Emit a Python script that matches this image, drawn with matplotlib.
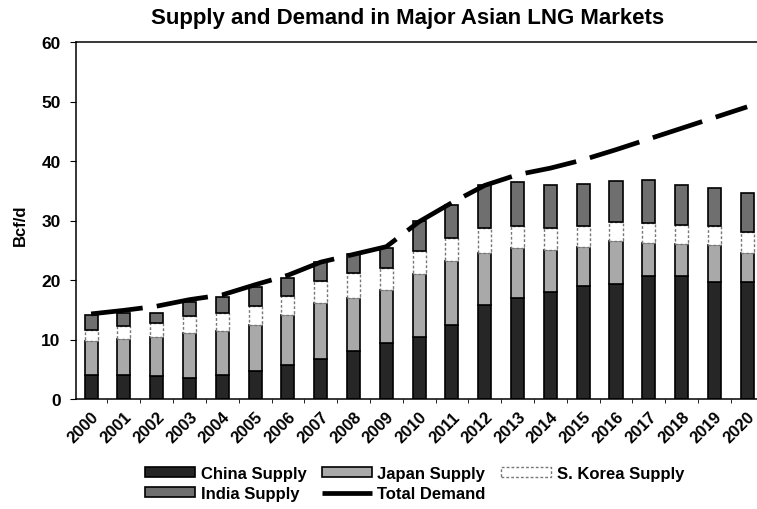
import matplotlib
matplotlib.use("Agg")
import matplotlib.pyplot as plt
import numpy as np

plt.rcParams["font.family"] = ["Liberation Sans", "DejaVu Sans"]
plt.rcParams["font.weight"] = "bold"

years = [str(y) for y in range(2000, 2021)]

# Bcf/d, stacked bottom to top
china_supply = [4.0, 4.1, 3.8, 3.6, 4.1, 4.7, 5.7, 6.8, 8.0, 9.4, 10.5,
                12.5, 15.8, 16.9, 18.0, 19.0, 19.4, 20.7, 20.7, 19.7, 19.7]
japan_supply = [5.7, 6.0, 6.6, 7.5, 7.3, 7.8, 8.4, 9.3, 8.9, 8.9, 10.5,
                10.7, 8.7, 8.4, 7.0, 6.6, 7.1, 5.6, 5.3, 6.1, 4.8]
korea_supply = [1.9, 2.1, 2.3, 2.8, 3.0, 3.1, 3.2, 3.7, 4.2, 3.7, 3.8,
                3.8, 4.2, 3.7, 3.7, 3.4, 3.3, 3.2, 3.2, 3.2, 3.6]
india_supply = [2.5, 2.2, 1.8, 2.4, 2.8, 3.3, 3.0, 3.2, 3.3, 3.3, 5.2,
                5.6, 7.2, 7.4, 7.2, 7.2, 6.8, 7.3, 6.8, 6.5, 6.6]
total_demand = [14.3, 14.9, 15.6, 16.7, 17.5, 19.2, 20.8, 23.0, 24.3, 25.6, 29.8,
                33.0, 35.9, 37.7, 38.8, 40.2, 41.9, 43.7, 45.5, 47.3, 49.1]

x = np.arange(len(years))
w = 0.4

fig = plt.figure(figsize=(7.57, 5.10), dpi=100)
ax = fig.add_axes([76 / 757, 110 / 510, 1 - 76 / 757, 357 / 510])

b0 = np.zeros(len(years))
h_china = ax.bar(x, china_supply, w, bottom=b0, color="#262626",
                 edgecolor="black", linewidth=1.2, label="China Supply")
b0 += china_supply
h_japan = ax.bar(x, japan_supply, w, bottom=b0, color="#a9a9a9",
                 edgecolor="black", linewidth=1.2, label="Japan Supply")
b0 += japan_supply
h_korea = ax.bar(x, korea_supply, w, bottom=b0, color="white",
                 edgecolor="#777777", linewidth=1.0, linestyle=(0, (2, 1.5)),
                 label="S. Korea Supply")
b0 += korea_supply
h_india = ax.bar(x, india_supply, w, bottom=b0, color="#6f6f6f",
                 edgecolor="black", linewidth=1.2, label="India Supply")

h_dem, = ax.plot(x, total_demand, color="black", linewidth=3.4,
                 dashes=(11, 3), solid_capstyle="butt", label="Total Demand")

ax.set_xlim(-0.46, 20.3)
ax.set_ylim(0, 60)
ax.set_yticks(range(0, 61, 10))
ax.set_xticks(x)
ax.set_xticklabels(years, rotation=45, ha="right", rotation_mode="anchor",
                   fontsize=12, fontweight="bold")
ax.set_xticks(x[:-1] + 0.5, minor=True)
ax.tick_params(axis="x", which="major", length=0, pad=7)
ax.tick_params(axis="x", which="minor", length=3, direction="out")
ax.tick_params(axis="y", length=4, direction="out", labelsize=12.5, pad=7)
for lab in ax.get_yticklabels():
    lab.set_fontweight("bold")

ax.spines["right"].set_visible(False)
for s in ("left", "top", "bottom"):
    ax.spines[s].set_linewidth(1.1)

fig.text(20 / 757, 1 - 225 / 510, "Bcf/d", rotation=90, ha="center",
         va="center", fontsize=12, fontweight="bold")
fig.text(0.538, 0.964, "Supply and Demand in Major Asian LNG Markets",
         ha="center", va="center", fontsize=16, fontweight="bold")

fig.legend([h_china, h_india, h_japan, h_dem, h_korea],
           ["China Supply", "India Supply", "Japan Supply", "Total Demand",
            "S. Korea Supply"],
           ncol=3, loc="upper left", bbox_to_anchor=(145 / 757, 1 - 467 / 510),
           frameon=False, borderpad=0, borderaxespad=0,
           fontsize=12, handlelength=3.0, handleheight=0.55,
           columnspacing=0.9, labelspacing=0.3, handletextpad=0.35)

fig.savefig("out.png", dpi=100)
